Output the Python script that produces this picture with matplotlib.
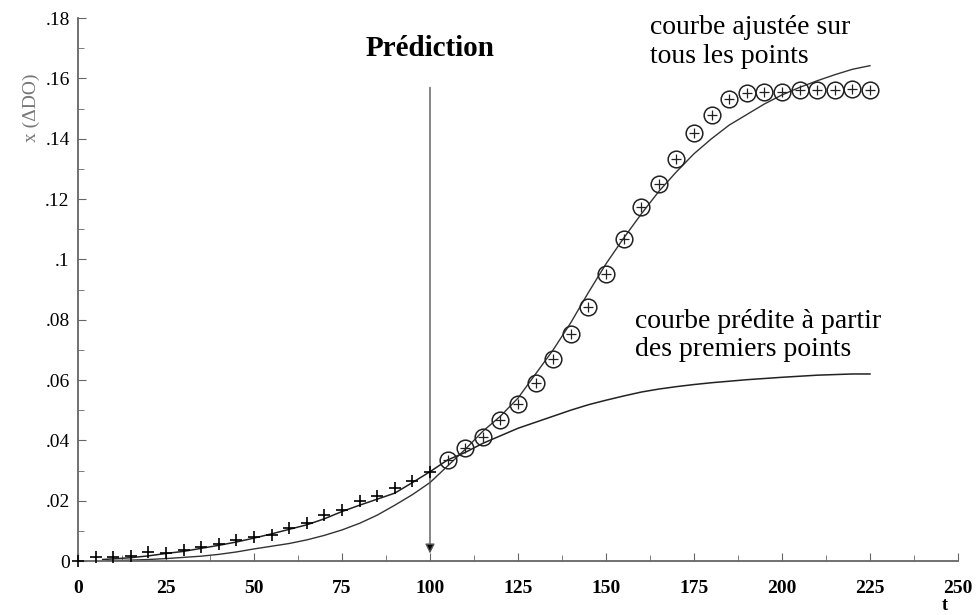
import matplotlib
matplotlib.use("Agg")
import matplotlib.pyplot as plt
from matplotlib.ticker import MultipleLocator, FixedLocator

# ---- data ----
t_first = [0, 5, 10, 15, 20, 25, 30, 35, 40, 45, 50, 55, 60, 65, 70, 75, 80, 85, 90, 95, 100]
x_first = [0.0, 0.0014, 0.0012, 0.0017, 0.0031, 0.0028, 0.0037, 0.0048, 0.0056, 0.0070,
           0.0078, 0.0086, 0.0108, 0.0125, 0.0153, 0.0169, 0.0199, 0.0216, 0.0243, 0.0265, 0.0296]

t_last = [105, 110, 115, 120, 125, 130, 135, 140, 145, 150, 155, 160, 165, 170, 175,
          180, 185, 190, 195, 200, 205, 210, 215, 220, 225]
x_last = [0.0335, 0.0375, 0.0411, 0.0468, 0.0521, 0.0590, 0.0670, 0.0753, 0.0843, 0.0952,
          0.1068, 0.1174, 0.1250, 0.1333, 0.1420, 0.1480, 0.1530, 0.1550, 0.1555, 0.1555,
          0.1560, 0.1560, 0.1560, 0.1565, 0.1560]

t_fit = [8, 10, 15, 20, 25, 30, 35, 40, 45, 50, 55, 60, 65, 70, 75, 80, 85, 90, 95, 100,
         105, 110, 115, 120, 125, 130, 135, 140, 145, 150, 155, 160, 165, 170, 175, 180,
         185, 190, 195, 200, 205, 210, 215, 220, 225]
x_fit = [0.0, 0.0001, 0.0003, 0.0005, 0.0008, 0.0012, 0.0016, 0.0022, 0.0030, 0.0040,
         0.0049, 0.0058, 0.0070, 0.0085, 0.0103, 0.0125, 0.0152, 0.0185, 0.0220, 0.0260,
         0.0315, 0.0370, 0.0430, 0.0480, 0.0540, 0.0620, 0.0700, 0.0790, 0.0890, 0.0985,
         0.1070, 0.1150, 0.1225, 0.1290, 0.1350, 0.1400, 0.1445, 0.1480, 0.1515, 0.1545,
         0.1570, 0.1592, 0.1612, 0.1630, 0.1642]

t_pred = [7, 10, 15, 20, 25, 30, 35, 40, 45, 50, 55, 60, 65, 70, 75, 80, 85, 90, 95, 100,
          105, 110, 115, 120, 125, 130, 135, 140, 145, 150, 155, 160, 165, 170, 175, 180,
          185, 190, 195, 200, 210, 220, 225]
x_pred = [0.0005, 0.0007, 0.0011, 0.0017, 0.0025, 0.0032, 0.0042, 0.0052, 0.0063, 0.0076,
          0.0090, 0.0105, 0.0120, 0.0140, 0.0164, 0.0185, 0.0205, 0.0225, 0.0260, 0.0296,
          0.0335, 0.0360, 0.0390, 0.0415, 0.0440, 0.0460, 0.0480, 0.0500, 0.0518, 0.0533,
          0.0547, 0.0560, 0.0570, 0.0578, 0.0585, 0.0591, 0.0596, 0.0601, 0.0605, 0.0609,
          0.0616, 0.0620, 0.0620]

x_ticks = [0, 25, 50, 75, 100, 125, 150, 175, 200, 225, 250]
y_ticks = [0, 0.02, 0.04, 0.06, 0.08, 0.1, 0.12, 0.14, 0.16, 0.18]
y_ticklabels = ["0", ".02", ".04", ".06", ".08", ".1", ".12", ".14", ".16", ".18"]
t_prediction = 100

serif = ["Liberation Serif", "DejaVu Serif"]
plt.rcParams["font.family"] = serif

fig = plt.figure(figsize=(9.79, 6.15), dpi=100)
ax = fig.add_axes([0.0797, 0.0878, 0.8988, 0.8829])

ax.plot(t_fit, x_fit, color="#333333", lw=1.0)
ax.plot(t_pred, x_pred, color="#222222", lw=1.1)
ax.plot(t_first, x_first, ls="none", marker="+", ms=9, mew=1.2, color="black",
        clip_on=False, zorder=4)
ax.plot(t_last, x_last, ls="none", marker="o", ms=12, mfc="none", mec="#222222", mew=1.1)
ax.plot(t_last, x_last, ls="none", marker="+", ms=7, mew=0.9, color="#222222")

# prediction arrow
ax.annotate("", xy=(t_prediction, 0.0025), xytext=(t_prediction, 0.157),
            arrowprops=dict(arrowstyle="-|>", color="#555555", lw=1.0,
                            mutation_scale=14, shrinkA=0, shrinkB=0,
                            fc="black", ec="#555555"))
ax.text(t_prediction, 0.1674, "Prédiction", ha="center", va="baseline",
        fontsize=21, fontweight="bold")
ax.text(162.5, 0.1748, "courbe ajustée sur", ha="left", va="baseline", fontsize=20)
ax.text(162.5, 0.1652, "tous les points", ha="left", va="baseline", fontsize=20)
ax.text(158.2, 0.0774, "courbe prédite à partir", ha="left", va="baseline", fontsize=20)
ax.text(158.2, 0.0678, "des premiers points", ha="left", va="baseline", fontsize=20)

ax.set_xlim(0, 250)
ax.set_ylim(0, 0.18)
ax.xaxis.set_major_locator(FixedLocator(x_ticks))
ax.xaxis.set_minor_locator(MultipleLocator(12.5))
ax.yaxis.set_major_locator(FixedLocator(y_ticks))
ax.set_yticklabels(y_ticklabels)
ax.yaxis.set_minor_locator(MultipleLocator(0.01))
ax.tick_params(axis="both", which="both", direction="in", color="#666666")
ax.tick_params(axis="both", which="major", length=6)
ax.tick_params(axis="both", which="minor", length=4)
ax.tick_params(axis="x", pad=14, labelsize=14)
ax.tick_params(axis="y", pad=6, labelsize=14)
for lab in ax.get_xticklabels():
    lab.set_fontweight("bold")

for s in ["top", "right"]:
    ax.spines[s].set_visible(False)
for s in ["left", "bottom"]:
    ax.spines[s].set_color("#666666")
    ax.spines[s].set_linewidth(1.3)

ax.set_ylabel("x (ΔDO)", fontsize=14, color="#777777")
ax.yaxis.set_label_coords(-0.043, 0.834)
fig.text(945 / 979, 1 - 605 / 615, "t", ha="center", va="center", fontsize=13,
         fontweight="bold")

fig.savefig("out.png", dpi=100)
